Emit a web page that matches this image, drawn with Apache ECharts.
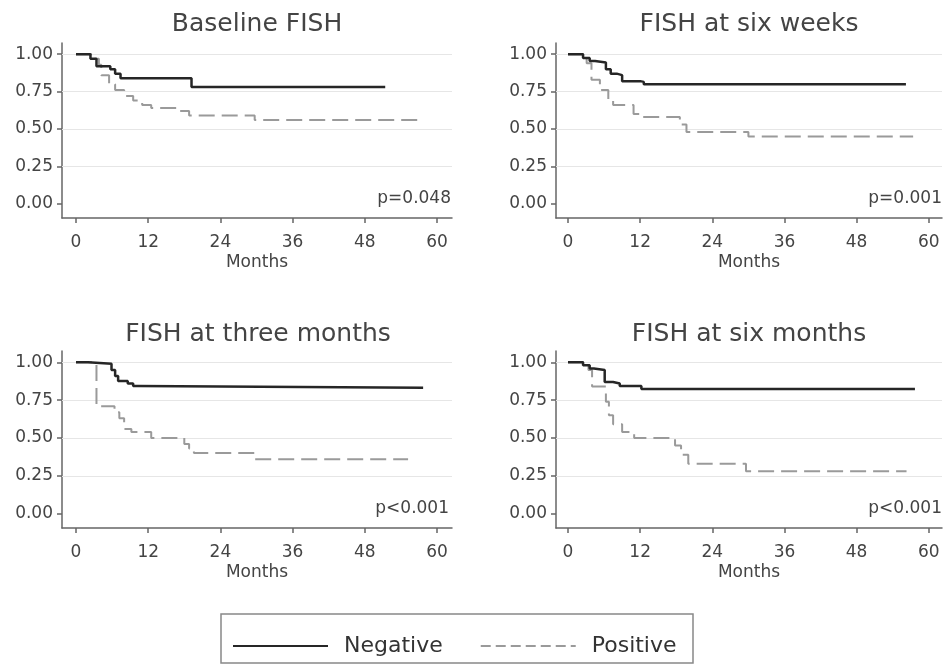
<!DOCTYPE html>
<html>
<head>
<meta charset="utf-8">
<script src="https://cdn.jsdelivr.net/npm/echarts@6/dist/echarts.min.js"></script>
<style>
html,body{margin:0;padding:0;background:#fff;}
#main{width:950px;height:665px;}
</style>
</head>
<body>
<div id="main"></div>
<script>
var panelTitles = ['Baseline FISH', 'FISH at six weeks', 'FISH at three months', 'FISH at six months'];
var pValues = ['p=0.048', 'p=0.001', 'p<0.001', 'p<0.001'];
var monthTicks = [0, 12, 24, 36, 48, 60];
var survTicks = [0, 0.25, 0.5, 0.75, 1];
var gridValues = [0.25, 0.5, 0.75, 1];

// [month, survival]
var negBaseline = [[0,1],[2.4,0.97],[3.4,0.92],[5.7,0.90],[6.5,0.87],[7.4,0.84],[19.2,0.78],[51.4,0.78]];
var posBaseline = [[0,1],[2.8,0.97],[3.8,0.93],[4.2,0.86],[5.5,0.80],[6.5,0.76],[8.0,0.72],[9.5,0.69],[11.0,0.66],[12.5,0.64],[17.0,0.62],[18.8,0.59],[29.7,0.56],[57.7,0.56]];
var negSixWeeks = [[0,1],[2.5,0.975],[3.6,0.955],[4.5,0.945],[6.3,0.90],[7.1,0.87],[8.1,0.86],[9.0,0.82],[12.0,0.815],[12.6,0.80],[56.2,0.80]];
var posSixWeeks = [[0,1],[3.1,0.94],[3.9,0.83],[5.3,0.76],[6.7,0.70],[7.5,0.66],[10.9,0.60],[12.0,0.58],[18.6,0.53],[19.7,0.48],[30.0,0.45],[57.4,0.45]];
var negThreeMonths = [[0,1],[2.0,0.99],[5.9,0.95],[6.5,0.91],[7.0,0.876],[8.6,0.86],[9.5,0.843],[10.3,0.832],[57.7,0.832]];
var posThreeMonths = [[0,1],[3.4,0.71],[6.4,0.67],[7.2,0.63],[8.0,0.56],[9.2,0.54],[12.5,0.50],[18.0,0.46],[18.8,0.43],[19.6,0.40],[29.7,0.36],[55.2,0.36]];
var negSixMonths = [[0,1],[2.5,0.98],[3.6,0.96],[4.3,0.95],[6.1,0.87],[7.5,0.86],[8.6,0.843],[12.2,0.823],[57.7,0.823]];
var posSixMonths = [[0,1],[3.4,0.95],[4.0,0.84],[6.3,0.74],[6.8,0.65],[7.5,0.59],[9.0,0.54],[11.0,0.50],[17.8,0.45],[18.8,0.39],[20.0,0.33],[29.6,0.28],[56.3,0.28]];

var negSeries = [negBaseline, negSixWeeks, negThreeMonths, negSixMonths];
var posSeries = [posBaseline, posSixWeeks, posThreeMonths, posSixMonths];

var font = 'DejaVu Sans';
var txtColor = '#444';
var axisColor = '#666';

var grids = [
    {left: 62, top: 43, width: 390, height: 175},
    {left: 556, top: 43, width: 386, height: 175},
    {left: 62, top: 351, width: 390, height: 177},
    {left: 556, top: 351, width: 386, height: 177}
];
var xRanges = [[-2.33, 62.5], [-2.0, 62.2], [-2.33, 62.5], [-2.0, 62.2]];
var titlePos = [[257, 24], [749, 24], [258, 334], [749, 334]];
var pPos = [[451, 199], [942, 199], [449, 509], [942, 509]];

var xAxes = [], yAxes = [], series = [], graphics = [];

for (var i = 0; i < 4; i++) {
    xAxes.push({
        type: 'value', gridIndex: i,
        min: xRanges[i][0], max: xRanges[i][1],
        name: 'Months', nameLocation: 'middle', nameGap: 36,
        nameTextStyle: {fontSize: 17, color: txtColor, fontFamily: font},
        axisLine: {show: true, onZero: false, lineStyle: {color: axisColor, width: 1.5}},
        axisTick: {show: true, length: 5, customValues: monthTicks, lineStyle: {color: axisColor, width: 1.5}},
        axisLabel: {customValues: monthTicks, margin: 16, fontSize: 17, color: txtColor, fontFamily: font},
        splitLine: {show: false}
    });
    yAxes.push({
        type: 'value', gridIndex: i,
        min: -0.095, max: 1.075,
        axisLine: {show: true, onZero: false, lineStyle: {color: axisColor, width: 1.5}},
        axisTick: {show: true, length: 5, customValues: survTicks, lineStyle: {color: axisColor, width: 1.5}},
        axisLabel: {customValues: survTicks, margin: 9, fontSize: 17, color: txtColor, fontFamily: font,
            formatter: function (v) { return v.toFixed(2); }},
        splitLine: {show: false}
    });
    // light horizontal grid lines
    series.push({
        type: 'line', xAxisIndex: i, yAxisIndex: i, data: [], silent: true, z: 1,
        markLine: {
            silent: true, symbol: 'none', z: 1,
            label: {show: false},
            lineStyle: {color: '#e6e6e6', width: 1, type: 'solid'},
            data: gridValues.map(function (v) { return {yAxis: v}; })
        }
    });
    series.push({
        name: 'Positive', type: 'line', xAxisIndex: i, yAxisIndex: i,
        step: 'end', symbol: 'none', z: 2,
        itemStyle: {color: '#9a9a9a'},
        lineStyle: {color: '#9a9a9a', width: 2, type: [16, 7]},
        data: posSeries[i]
    });
    series.push({
        name: 'Negative', type: 'line', xAxisIndex: i, yAxisIndex: i,
        step: 'end', symbol: 'none', z: 3,
        itemStyle: {color: '#262626'},
        lineStyle: {color: '#262626', width: 2.5},
        data: negSeries[i]
    });
    graphics.push({
        type: 'text', x: titlePos[i][0], y: titlePos[i][1],
        style: {text: panelTitles[i], fontSize: 25, fontFamily: font, fill: '#444',
            align: 'center', verticalAlign: 'middle'}
    });
    graphics.push({
        type: 'text', x: pPos[i][0], y: pPos[i][1],
        style: {text: pValues[i], fontSize: 17, fontFamily: font, fill: txtColor,
            align: 'right', verticalAlign: 'middle'}
    });
}

graphics.push({
    type: 'rect', shape: {x: 221, y: 614, width: 472, height: 49},
    style: {fill: 'none', stroke: '#888', lineWidth: 1.5}
});

var mychart = echarts.init(document.getElementById('main'));
var option = {
    backgroundColor: '#fff',
    animation: false,
    grid: grids,
    xAxis: xAxes,
    yAxis: yAxes,
    legend: {
        left: 227, top: 630,
        itemWidth: 95, itemHeight: 20, itemGap: 37,
        itemStyle: {opacity: 0},
        data: [
            {name: 'Negative'},
            {name: 'Positive', lineStyle: {type: [10, 5]}}
        ],
        textStyle: {fontSize: 22, color: '#333', fontFamily: font, padding: [0, 0, 0, 11]}
    },
    graphic: graphics,
    series: series
};
mychart.setOption(option, true);
</script>
</body>
</html>
